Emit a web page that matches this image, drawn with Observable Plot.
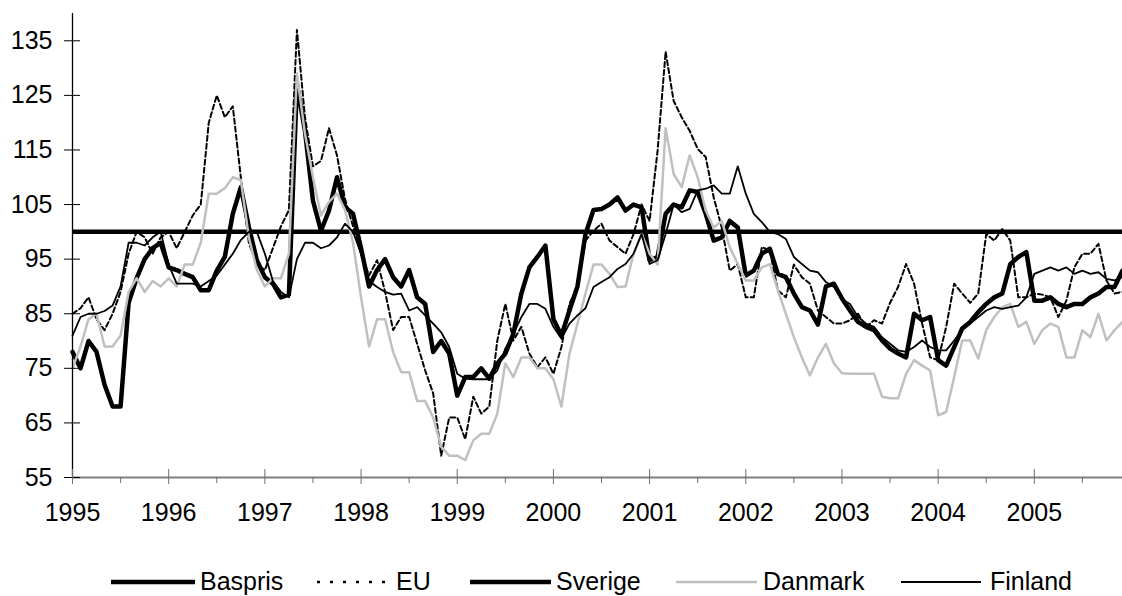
<!DOCTYPE html>
<html><head><meta charset="utf-8">
<script src="https://cdn.jsdelivr.net/npm/d3@7"></script>
<script src="https://cdn.jsdelivr.net/npm/@observablehq/plot@0.6"></script>
<style>
html,body{margin:0;padding:0;background:#fff;}
body{width:1122px;height:596px;overflow:hidden;font-family:"Liberation Sans",Arial,sans-serif;}
#legend{display:block;}
</style></head><body>
<div id="chart"></div>
<div id="legend"></div>
<script>
// ---- data ----
const startYear = 1995;
const months = d3.range(132).map(i => startYear + i / 12); // monthly time grid Jan 1995 .. Dec 2005
const yTicks = [55, 65, 75, 85, 95, 105, 115, 125, 135];
const yearTicks = [1995, 1996, 1997, 1998, 1999, 2000, 2001, 2002, 2003, 2004, 2005];
const halfYearTicks = [1995.5, 1996.5, 1997.5, 1998.5, 1999.5, 2000.5, 2001.5, 2002.5, 2003.5, 2004.5, 2005.5];
const seriesNames = ["Baspris", "EU", "Sverige", "Danmark", "Finland"];
const baspris = 100;

const eu = [
  85, 86, 88, 84, 82, 85, 89, 96, 100, 99, 96, 99,
  100, 97, 100, 103, 105, 120, 125, 121, 123, 110, 98, 94,
  93, 97, 101, 104, 137, 121, 112, 113, 119, 114, 106, 101,
  96, 92, 94.8, 89, 82, 84.4, 84.4, 79.5, 74.6, 70.4, 59, 66,
  66, 62, 69.8, 66.7, 68, 80.1, 86.8, 80.1, 82.6, 77.7, 75.2, 77,
  74, 78.9, 86.8, 90, 98.4, 100.2, 101.5, 98.4, 97.2, 96, 99.6, 105,
  102, 114.9, 133, 124, 121, 118.5, 115.2, 113.7, 106.3, 100.8, 92.9, 94.1,
  88, 88, 97.2, 96.6, 89.3, 88, 94, 91.7, 90.5, 85.6, 84.4, 83.2,
  83.2, 83.8, 85, 82.6, 83.8, 83.2, 87, 89.9, 94.1, 90.5, 83.2, 77,
  76.5, 82.6, 90.5, 88.7, 87, 88.7, 99.6, 98.4, 100.5, 98.4, 88, 88,
  88.7, 88.5, 88, 84.4, 87.4, 93.5, 96, 96, 97.8, 91.1, 88.7, 89
];
const sverige = [
  78, 75, 80, 78, 72, 68, 68, 87, 91.5, 95, 97, 98,
  93.5, 93, 92.3, 91.7, 89.3, 89.3, 92.9, 95.4, 103.3, 108.2, 100.9, 94.8,
  91.7, 90.5, 88, 88.5, 127, 118.5, 105.7, 100.2, 103.9, 110, 104.5, 103.3,
  97, 90, 93, 95, 91.7, 90, 93, 88, 86.8, 78, 80, 77.7,
  70, 73.4, 73.4, 75, 73.1, 75.9, 77.7, 81.3, 88.7, 93.5, 95.4, 97.5,
  84, 81, 85.6, 90, 99.6, 104, 104.2, 105, 106.3, 103.9, 105, 104.5,
  94.8, 95.4, 103.3, 105, 104.5, 107.6, 107.3, 103.3, 98.4, 99, 102, 100.8,
  92, 92.9, 96, 96.9, 92.3, 91.7, 88.7, 86.2, 85.6, 83, 90, 90.5,
  87.8, 85.6, 83.5, 82.6, 82, 80.1, 78.6, 77.7, 77, 85, 83.8, 84.4,
  76.5, 75.5, 78.9, 82.3, 83.5, 85.3, 86.8, 88, 88.7, 94.1, 95.4, 96.3,
  87.4, 87.4, 88, 86.8, 86.2, 86.8, 86.8, 88, 88.7, 89.9, 89.9, 92.9
];
const danmark = [
  75, 79, 84, 85, 79, 79, 81, 89, 91.5, 89, 91, 90,
  91.5, 90, 94, 94, 98, 107, 107, 108, 110, 109.5, 99, 93,
  90, 91.5, 91.5, 96, 129, 118, 110, 103, 105.5, 107, 104, 98,
  88, 79, 84, 84, 78, 74.3, 74.3, 69, 69, 66, 60.6, 59,
  59, 58.2, 61.8, 63, 63, 66.7, 75.9, 73.4, 77, 77, 75, 75,
  73, 68, 77.7, 83.2, 88.7, 94, 94, 92.3, 89.9, 90, 96, 99.6,
  96, 94, 119, 110.6, 108.2, 114, 110, 103.9, 100.8, 102, 97.2, 94.1,
  91.1, 91.1, 93.5, 94.1, 89.3, 85, 80.7, 77, 73.7, 77, 79.5, 75.9,
  74.1, 74, 74, 74, 74, 69.8, 69.5, 69.5, 74, 76.5, 75.5, 74.6,
  66.4, 67, 73.4, 80.1, 80.1, 76.8, 82, 84.4, 86.2, 86.8, 82.6, 83.5,
  79.5, 82, 83.2, 82.6, 77, 77, 82, 80.7, 85, 80.1, 82, 83.5
];
const finland = [
  81, 84.4, 85, 85, 85.5, 86.5, 90, 98, 98, 97.5, 99, 100,
  94, 90.5, 90.5, 90.5, 90, 91, 92, 94, 96, 98.5, 100, 100,
  96, 91, 89, 88, 95, 98, 98, 97, 97.5, 99, 101.5, 100,
  96, 91, 89.9, 89, 88.5, 88.7, 85.6, 86.2, 84.7, 83.2, 81.6, 78.9,
  74, 73.1, 73, 73, 73, 74.6, 78.6, 81.3, 84.4, 86.8, 86.8, 85.9,
  82.6, 80.4, 83.2, 84.7, 86, 89.9, 90.8, 91.7, 93.2, 94.1, 96, 99.6,
  94.1, 94.8, 99.6, 105, 103.6, 104.2, 107.6, 107.9, 108.5, 107, 107, 112,
  107, 103.3, 101.8, 100, 99.6, 98.7, 95.4, 94.1, 92.9, 92.6, 90.8, 89.9,
  87.7, 86.8, 84.4, 83.2, 82.6, 80.7, 79.5, 78.3, 78, 78.9, 80.1, 78.9,
  78.3, 78.3, 80.1, 82, 83.2, 84.4, 85.6, 86.2, 85.9, 86.2, 86.5, 88,
  92.3, 92.9, 93.5, 92.9, 93.5, 92.3, 92.9, 92.3, 92.6, 91.4, 91.1, 91.7
];

// ---- chart ----
const W = 1122, H = 550, axisY0 = 477;
const rows = vals => vals.map((v, i) => ({t: months[i], v}));
const font = "'Liberation Sans', Arial, sans-serif";

const chart = Plot.plot({
  width: W, height: H,
  marginLeft: 72, marginRight: 0, marginTop: 13, marginBottom: H - axisY0,
  style: {fontFamily: font, fontSize: "25px", background: "#fff", color: "#000", overflow: "visible"},
  x: {type: "linear", domain: [months[0], months[months.length - 1]], label: null},
  y: {domain: [55, 140], label: null},
  marks: [
    Plot.ruleY([baspris], {stroke: "#000", strokeWidth: 4.5}),
    Plot.line(rows(eu), {x: "t", y: "v", stroke: "#000", strokeWidth: 2, strokeDasharray: "5,3"}),
    Plot.line(rows(sverige), {x: "t", y: "v", stroke: "#000", strokeWidth: 4.5, strokeLinejoin: "round"}),
    Plot.line(rows(danmark), {x: "t", y: "v", stroke: "#c0c0c0", strokeWidth: 2.5}),
    Plot.line(rows(finland), {x: "t", y: "v", stroke: "#000", strokeWidth: 1.8}),
    Plot.ruleX([months[0]], {stroke: "#000", strokeWidth: 1.3}),
    Plot.ruleY([55], {stroke: "#808080", strokeWidth: 2}),
    Plot.axisY(yTicks, {tickSize: 16, dx: 8, text: null, stroke: "#000", label: null}),
    Plot.axisY(yTicks, {tickSize: 0, tickPadding: 20, fill: "#000", label: null}),
    Plot.axisX(yearTicks, {tickSize: 15, dy: -8, text: null, stroke: "#707070", label: null}),
    Plot.axisX(halfYearTicks, {tickSize: 6, text: null, stroke: "#707070", label: null}),
    Plot.axisX(yearTicks, {tickSize: 0, tickPadding: 26, tickFormat: d => String(d), fill: "#000", label: null})
  ]
});
document.getElementById("chart").appendChild(chart);

// ---- legend (below the plot) ----
const legendStyles = {
  Baspris: {stroke: "#000", width: 4.5, dash: null, x1: 111, x2: 195, tx: 200},
  EU: {stroke: "#000", width: 2.5, dash: "3,10", x1: 317, x2: 393, tx: 396},
  Sverige: {stroke: "#000", width: 4.5, dash: null, x1: 470, x2: 551, tx: 556},
  Danmark: {stroke: "#c0c0c0", width: 2.5, dash: null, x1: 676, x2: 757, tx: 763},
  Finland: {stroke: "#000", width: 2, dash: null, x1: 901, x2: 981, tx: 990}
};
const ns = "http://www.w3.org/2000/svg";
const lg = document.createElementNS(ns, "svg");
lg.setAttribute("width", W); lg.setAttribute("height", 46);
lg.style.display = "block";
for (const name of seriesNames) {
  const s = legendStyles[name];
  const ln = document.createElementNS(ns, "line");
  ln.setAttribute("x1", s.x1); ln.setAttribute("x2", s.x2);
  ln.setAttribute("y1", 32); ln.setAttribute("y2", 32);
  ln.setAttribute("stroke", s.stroke); ln.setAttribute("stroke-width", s.width);
  if (s.dash) ln.setAttribute("stroke-dasharray", s.dash);
  lg.appendChild(ln);
  const tx = document.createElementNS(ns, "text");
  tx.setAttribute("x", s.tx); tx.setAttribute("y", 40);
  tx.setAttribute("font-family", font); tx.setAttribute("font-size", 25);
  tx.setAttribute("fill", "#000");
  tx.textContent = name;
  lg.appendChild(tx);
}
document.getElementById("legend").appendChild(lg);
</script>
</body></html>
